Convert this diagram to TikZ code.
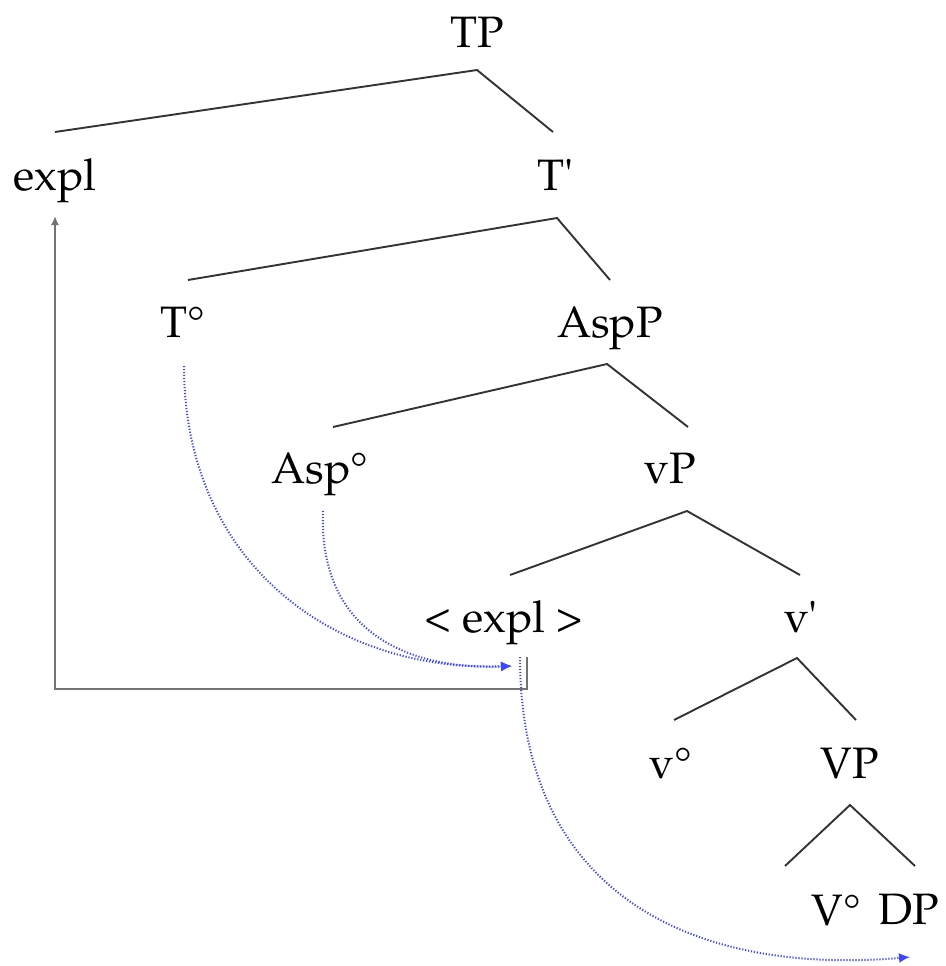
\documentclass[tikz,border=0pt]{standalone}
\usepackage[T1]{fontenc}
\usepackage{mathpazo}
\usetikzlibrary{arrows.meta}
\begin{document}
\begin{tikzpicture}[x=1pt,y=-1pt,
  lab/.style={anchor=base,inner sep=0pt,font=\fontsize{44}{52}\selectfont},
  branch/.style={draw=black!80,line width=1.9pt},
  grayarrow/.style={draw=black!55,line width=2.2pt,-{Latex[length=9pt,width=8pt]}},
  movearrow/.style={draw={rgb,255:red,60;green,70;blue,255},line width=2pt,dash pattern=on 1.2pt off 1.8pt,-{Latex[length=11pt,width=10pt]}}]
\useasboundingbox (0,0) rectangle (945,966);
% labels
\node[lab] (TP) at (477,48) {TP};
\node[lab] (expl) at (55,190) {expl};
\node[lab] (Tbar) at (556,190) {T\textquotesingle};
\node[lab] (T0) at (183,337) {T\textdegree};
\node[lab] (AspP) at (610,337) {AspP};
\node[lab] (Asp0) at (320,483) {Asp\textdegree};
\node[lab] (vP) at (670,483) {vP};
\node[lab] (texpl) at (504,632) {\textless\ expl \textgreater};
\node[lab] (vbar) at (801,632) {v\textquotesingle};
\node[lab] (v0) at (671,778) {v\textdegree};
\node[lab] (VP) at (850,778) {VP};
\node[lab] (V0) at (836,925) {V\textdegree};
\node[lab] (DP) at (909,924) {DP};
% branch points
\coordinate (TPa) at (477,70);   \coordinate (explt) at (55,132);  \coordinate (Tbart) at (553,132);
\coordinate (Tbara) at (557,218); \coordinate (T0t) at (188,280);  \coordinate (AspPt) at (610,280);
\coordinate (AspPa) at (607,364); \coordinate (Asp0t) at (333,427); \coordinate (vPt) at (688,427);
\coordinate (vPa) at (687,511);  \coordinate (texplt) at (510,575); \coordinate (vbart) at (800,575);
\coordinate (vbara) at (797,658); \coordinate (v0t) at (674,720);  \coordinate (VPt) at (856,720);
\coordinate (VPa) at (850,805);  \coordinate (V0t) at (785,866);  \coordinate (DPt) at (915,866);
\draw[branch] (explt) -- (TPa) -- (Tbart);
\draw[branch] (T0t) -- (Tbara) -- (AspPt);
\draw[branch] (Asp0t) -- (AspPa) -- (vPt);
\draw[branch] (texplt) -- (vPa) -- (vbart);
\draw[branch] (v0t) -- (vbara) -- (VPt);
\draw[branch] (V0t) -- (VPa) -- (DPt);
% gray movement arrow
\coordinate (gstart) at (527,657);
\coordinate (gcorner1) at (527,689);
\coordinate (gcorner2) at (55,689);
\coordinate (gend) at (55,216);
\draw[grayarrow] (gstart) -- (gcorner1) -- (gcorner2) -- (gend);
% blue dotted arrows
\coordinate (T0s) at (184,366);
\coordinate (Asp0s) at (323,511);
\coordinate (tgt1) at (512,666);
\coordinate (texpls) at (520,657);
\coordinate (DPs) at (910,957);
\draw[movearrow] (T0s) .. controls (184,560) and (330,672) .. (tgt1);
\draw[movearrow] (Asp0s) .. controls (318,640) and (420,670) .. (tgt1);
\draw[movearrow] (texpls) .. controls (520,900) and (700,975) .. (DPs);
\end{tikzpicture}
\end{document}
